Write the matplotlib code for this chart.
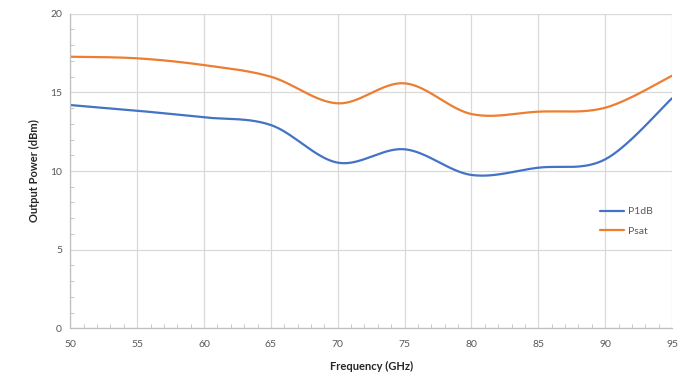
import numpy as np
import matplotlib.pyplot as plt
from matplotlib.ticker import MultipleLocator

freq = [50, 55, 60, 65, 70, 75, 80, 85, 90, 95]
p1db = [14.19, 13.83, 13.41, 12.92, 10.53, 11.38, 9.75, 10.21, 10.74, 14.62]
psat = [17.26, 17.16, 16.73, 15.99, 14.3, 15.57, 13.62, 13.77, 14.02, 16.05]


def smooth(x, y, n=40):
    # excel-style smoothed line (bezier through points, catmull-rom control points)
    x = np.asarray(x, float)
    y = np.asarray(y, float)
    px = np.concatenate([[x[0]], x, [x[-1]]])
    py = np.concatenate([[y[0]], y, [y[-1]]])
    xs, ys = [], []
    t = np.linspace(0, 1, n)
    for i in range(1, len(px) - 2):
        p0 = np.array([px[i], py[i]])
        p3 = np.array([px[i + 1], py[i + 1]])
        c1 = p0 + (p3 - np.array([px[i - 1], py[i - 1]])) / 6
        c2 = p3 - (np.array([px[i + 2], py[i + 2]]) - p0) / 6
        b = ((1 - t) ** 3)[:, None] * p0 + (3 * (1 - t) ** 2 * t)[:, None] * c1 \
            + (3 * (1 - t) * t ** 2)[:, None] * c2 + (t ** 3)[:, None] * p3
        xs.append(b[:, 0])
        ys.append(b[:, 1])
    return np.concatenate(xs), np.concatenate(ys)


plt.rcParams['font.family'] = ['Lato', 'DejaVu Sans']

fig = plt.figure(figsize=(6.92, 3.73), dpi=100)
ax = fig.add_axes([0.1016, 0.1196, 0.8695, 0.8439])

xs, ys = smooth(freq, p1db)
ax.plot(xs, ys, color='#4472C4', lw=1.6, label='P1dB', solid_capstyle='round')
xs, ys = smooth(freq, psat)
ax.plot(xs, ys, color='#ED7D31', lw=1.6, label='Psat', solid_capstyle='round')

ax.set_xlim(50, 95)
ax.set_ylim(0, 20)
ax.xaxis.set_major_locator(MultipleLocator(5))
ax.yaxis.set_major_locator(MultipleLocator(5))
ax.xaxis.set_minor_locator(MultipleLocator(1))
ax.yaxis.set_minor_locator(MultipleLocator(1))
ax.grid(True, which='major', color='#D9D9D9', lw=0.9)
ax.set_axisbelow(True)

for s in ['top', 'right']:
    ax.spines[s].set_visible(False)
for s in ['left', 'bottom']:
    ax.spines[s].set_color('#BFBFBF')
    ax.spines[s].set_linewidth(0.9)

ax.tick_params(which='both', direction='in', color='#BFBFBF', labelsize=7.5,
               labelcolor='#595959')
ax.tick_params(which='major', length=0)
ax.tick_params(axis='x', which='major', pad=8)
ax.tick_params(axis='y', which='major', pad=6)
ax.tick_params(which='minor', length=3)

ax.set_xlabel('Frequency (GHz)', fontsize=8, fontweight='bold', color='#262626', labelpad=9)
ax.set_ylabel('Output Power (dBm)', fontsize=8, fontweight='bold', color='#262626', labelpad=7)

ax.legend(loc='center left', bbox_to_anchor=(0.865, 0.34), frameon=False,
          fontsize=7.5, handlelength=2.3, labelspacing=1.0, handletextpad=0.4,
          labelcolor='#595959')

fig.savefig('out.png', dpi=100)
